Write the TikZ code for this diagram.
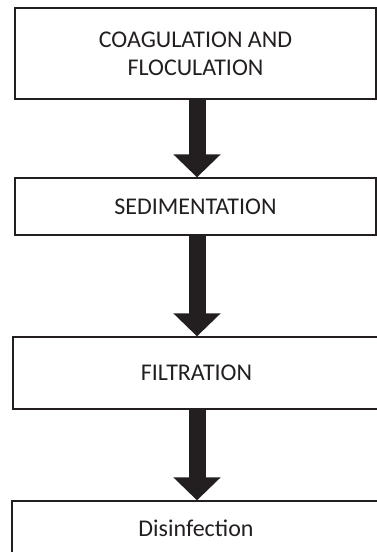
\documentclass[tikz,border=0pt]{standalone}
\usepackage{fontspec}
\setmainfont{Carlito}
\usetikzlibrary{arrows.meta}
\definecolor{textgray}{HTML}{231F20}

\begin{document}
\begin{tikzpicture}[x=1pt,y=-1pt,
    stagebox/.style={draw=textgray, line width=1.3pt, rectangle, inner sep=0pt,
      align=center, font=\fontsize{24}{28}\selectfont, text=textgray},
    fatarrow/.style={draw=textgray, line width=17pt,
      -{Triangle[width=46pt,length=23pt]}}]
  % page frame, same size as the reference
  \useasboundingbox (0,0) rectangle (377,552);

  % the four stages (boxes 3 and 4 run past the right edge)
  \node[stagebox, minimum width=361pt, minimum height=91pt] (coag) at (195.5,53.5)
    {COAGULATION AND\\FLOCULATION};
  \node[stagebox, minimum width=361pt, minimum height=57pt] (sedi) at (195.5,206.5)
    {SEDIMENTATION};
  \node[stagebox, minimum width=367pt, minimum height=72pt] (filt) at (196.5,373)
    {FILTRATION};
  \node[stagebox, minimum width=368pt, minimum height=54pt] (disi) at (196,528)
    {Disinfection};

  % block arrows between the stages
  \draw[fatarrow] ([xshift=1.5pt]coag.south) -- ([xshift=1.5pt]coag.south |- sedi.north);
  \draw[fatarrow] ([xshift=1.5pt]sedi.south) -- ([xshift=1.5pt]sedi.south |- filt.north);
  \draw[fatarrow] ([xshift=0.5pt]filt.south) -- ([xshift=0.5pt]filt.south |- disi.north);
\end{tikzpicture}
\end{document}
